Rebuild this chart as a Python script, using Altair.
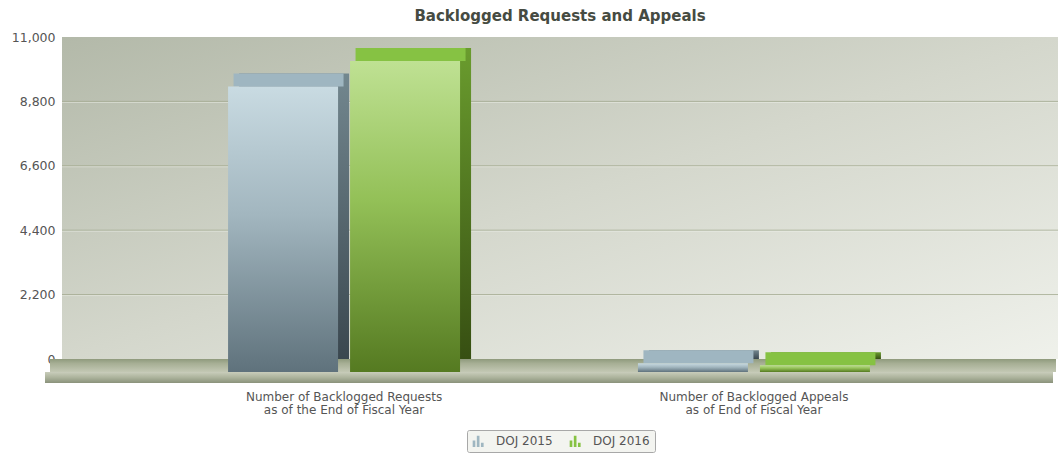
import altair as alt
import pandas as pd

# ---------------- data ----------------
title_text = "Backlogged Requests and Appeals"
categories = [
    "Number of Backlogged Requests as of the End of Fiscal Year",
    "Number of Backlogged Appeals as of End of Fiscal Year",
]
series_names = ["DOJ 2015", "DOJ 2016"]
doj_2015 = [9750, 300]
doj_2016 = [10620, 230]
y_ticks = [0, 2200, 4400, 6600, 8800, 11000]

rows = []
for s, vals in zip(series_names, [doj_2015, doj_2016]):
    for c, v in zip(categories, vals):
        rows.append({"category": c, "series": s, "value": v})
df = pd.DataFrame(rows)
grid_df = pd.DataFrame({"value": y_ticks[1:-1]})

# ---------------- style ----------------
W, H = 996, 322
BAR_W = 110
DX, DY = 11, 13
FONT = "DejaVu Sans"
TXT = "#555555"


def grad(stops, x2=0, y2=1):
    return alt.LinearGradient(
        gradient="linear", x1=0, y1=0, x2=x2, y2=y2,
        stops=[alt.GradientStop(offset=o, color=c) for o, c in stops],
    )


styles = {
    "DOJ 2015": dict(
        shift=-61,
        front=[(0, "#c9dbe2"), (0.45, "#a2b6bf"), (1, "#5f727c")],
        side=[(0, "#73878f"), (1, "#3a474f")],
    ),
    "DOJ 2016": dict(
        shift=61,
        front=[(0, "#bfe193"), (0.45, "#93c057"), (1, "#557a21")],
        side=[(0, "#6a9c2e"), (1, "#374f12")],
    ),
}
legend_colors = ["#9fb6c1", "#86c243"]

x_enc = alt.X(
    "category:N",
    sort=categories,
    scale=alt.Scale(paddingInner=0.434, paddingOuter=0.432),
    axis=alt.Axis(
        title=None, domain=False, ticks=False, labelAngle=0, grid=False,
        labelPadding=32, labelOffset=-DX, labelFontSize=12, labelLimit=500,
        labelColor=TXT, labelFont=FONT, labelLineHeight=13.5,
        labelExpr="split(replace(datum.label, ' as of', '|as of'), '|')",
    ),
)
y_scale = alt.Scale(domain=[0, 11000], nice=False)
y_enc = alt.Y(
    "value:Q",
    scale=y_scale,
    axis=alt.Axis(
        title=None, values=y_ticks, format=",d", domain=False, ticks=False,
        grid=False, labelPadding=7, labelFontSize=12.5, labelColor=TXT,
        labelFont=FONT,
    ),
)

color_enc = alt.Color(
    "series:N",
    scale=alt.Scale(domain=series_names, range=legend_colors),
    legend=alt.Legend(
        title=None, orient="none", legendX=405, legendY=393,
        direction="horizontal", padding=5, strokeColor="#a8a8a8",
        fillColor="#f3f4f0", cornerRadius=2, labelFontSize=12,
        labelColor=TXT, labelFont=FONT, columnPadding=16,
        symbolType="M-0.9,1V-0.1H-0.45V1Z M-0.2,1V-0.9H0.25V1Z M0.5,1V0.3H0.95V1Z",
        symbolSize=140, symbolStrokeWidth=0, labelOffset=12,
    ),
)

base = alt.Chart(df).encode(x=x_enc, y=y_enc)

layers = []

deco = alt.Data(values=[{"k": 1}])
# back wall gradient
wall = alt.Chart(deco).mark_rect(
    color=grad([(0, "#b3b9a9"), (0.5, "#d4d7cc"), (1, "#eff1eb")], x2=1, y2=1)
).encode(x=alt.value(0), x2=alt.value(W), y=alt.value(0), y2=alt.value(H))
# gridlines on the wall
grid_dark = alt.Chart(grid_df).mark_rule(color="#a2a98f", strokeWidth=1, opacity=0.85).encode(
    y=alt.Y("value:Q", scale=y_scale), x=alt.value(0), x2=alt.value(W)
)
grid_light = alt.Chart(grid_df).mark_rule(
    color="#f2f3ee", strokeWidth=1, opacity=0.5, yOffset=1
).encode(y=alt.Y("value:Q", scale=y_scale), x=alt.value(0), x2=alt.value(W))
# floor slab
floor_top = alt.Chart(deco).mark_rect(
    color=grad([(0, "#8f9a7c"), (0.35, "#a7af95"), (1, "#c3c8b4")])
).encode(x=alt.value(-12), x2=alt.value(W - 2), y=alt.value(H), y2=alt.value(H + DY))
floor_front = alt.Chart(deco).mark_rect(
    color=grad([(0, "#c9cdbb"), (0.5, "#acb39c"), (1, "#8a927b")])
).encode(x=alt.value(-17), x2=alt.value(W - 5), y=alt.value(H + DY), y2=alt.value(H + DY + 11))
layers += [wall, grid_dark, grid_light, floor_top, floor_front]

for s in series_names:
    st = styles[s]
    sub = base.transform_filter(alt.datum.series == s)
    side = sub.mark_bar(
        width=BAR_W, xOffset=st["shift"], y2Offset=6, color=grad(st["side"])
    )
    top = sub.mark_bar(
        width=BAR_W, xOffset=st["shift"] - DX / 2, y2Offset=DY,
    ).encode(y2=alt.Y2("value:Q"), color=color_enc)
    front = sub.mark_bar(
        width=BAR_W, xOffset=st["shift"] - DX, yOffset=DY, y2Offset=DY,
        color=grad(st["front"]),
    )
    layers += [side, top, front]

chart = alt.layer(*layers).properties(
    width=W, height=H,
    title=alt.TitleParams(
        title_text, font=FONT, fontSize=15, fontWeight="bold",
        color="#464b42", anchor="middle", offset=7,
    ),
    autosize=alt.AutoSizeParams(type="none"),
    padding={"left": 62, "top": 37, "right": 4, "bottom": 100},
    background="white",
).configure_view(
    stroke="transparent",
)

chart.save("out.html", embed_options={"renderer": "svg", "actions": False})
